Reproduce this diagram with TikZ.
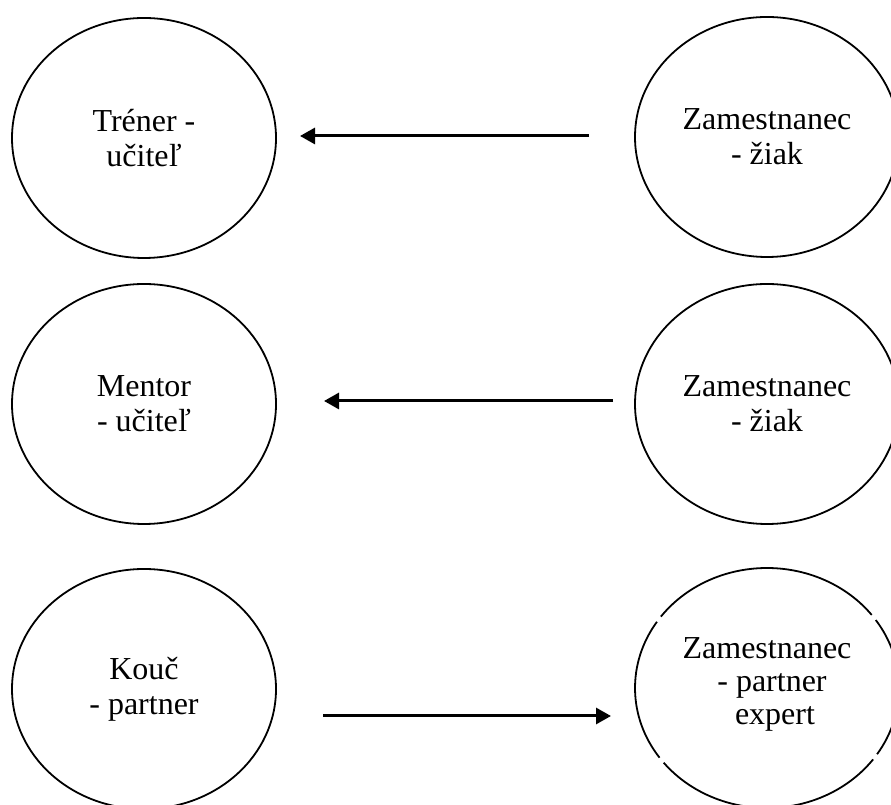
\documentclass[tikz,border=0pt]{standalone}
\usepackage{fontspec}
\setmainfont{Liberation Serif}
\usetikzlibrary{shapes.geometric,arrows.meta}
\begin{document}
\begin{tikzpicture}[x=1pt,y=1pt,
  role/.style={ellipse, draw, line width=1.8pt, minimum width=264pt,
    minimum height=240pt, inner sep=0pt, align=center,
    font=\fontsize{32}{35}\selectfont},
  flow/.style={line width=3pt, -{Triangle[length=15pt,width=16pt]}}]
\clip (0,0) rectangle (891,805);
\fill[white] (0,0) rectangle (891,805);

% left column: the guiding roles
\node[role] (trener) at (144,667) {Tréner -\\učiteľ};
\node[role] (mentor) at (144,401) {Mentor\\- učiteľ};
\node[role] (kouc)   at (144,116) {Kouč\\- partner};

% right column: the employee
\node[role] (ziak1)  at (767,668) {Zamestnanec\\- žiak};
\node[role] (ziak2)  at (767,401) {Zamestnanec\\- žiak};
\node[role, draw=none] (expert) at (767,117) {};
\node[align=center, font=\fontsize{32}{33}\selectfont] (experttxt) at (767,121)
  {Zamestnanec\\\hspace*{10pt}- partner\\\hspace*{16pt}expert};

% outline of the partner ellipse, broken in four places
\begin{scope}[line width=1.8pt]
  \draw ([shift={(37.5:132 and 120)}]expert.center)
    arc[start angle=37.5, end angle=143.5, x radius=132, y radius=120];
  \draw ([shift={(146.5:132 and 120)}]expert.center)
    arc[start angle=146.5, end angle=215.5, x radius=132, y radius=120];
  \draw ([shift={(218.5:132 and 120)}]expert.center)
    arc[start angle=218.5, end angle=323.5, x radius=132, y radius=120];
  \draw ([shift={(326.5:132 and 120)}]expert.center)
    arc[start angle=326.5, end angle=394.5, x radius=132, y radius=120];
\end{scope}

% connector end points
\coordinate (a1s) at (589,669);
\coordinate (a1e) at (300,669);
\coordinate (a2s) at (613,404);
\coordinate (a2e) at (324,404);
\coordinate (a3s) at (323,89);
\coordinate (a3e) at (611,89);

\draw[flow] (a1s) -- (a1e);
\draw[flow] (a2s) -- (a2e);
\draw[flow] (a3s) -- (a3e);
\end{tikzpicture}
\end{document}
